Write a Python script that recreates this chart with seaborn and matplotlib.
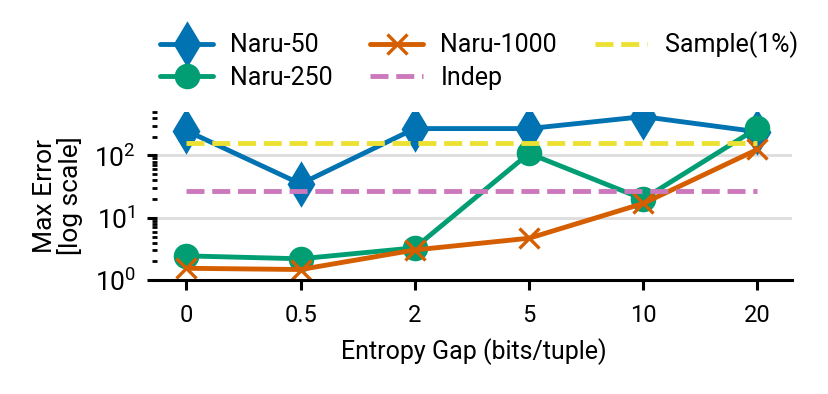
import numpy as np
import pandas as pd
import seaborn as sns
import matplotlib.pyplot as plt

# data
gap_labels = ["0", "0.5", "2", "5", "10", "20"]
naru_50 = [250, 35, 270, 270, 420, 240]
naru_250 = [2.45, 2.2, 3.3, 108, 20, 275]
naru_1000 = [1.55, 1.48, 3.05, 4.7, 17, 125]
indep = [27] * 6
sample_1pct = [158] * 6

sns.set_theme(style="ticks", palette="colorblind")
plt.rcParams["font.family"] = ["Roboto", "DejaVu Sans"]
plt.rcParams["mathtext.fontset"] = "cm"
for k in ["text.color", "axes.labelcolor", "xtick.color", "ytick.color", "axes.edgecolor"]:
    plt.rcParams[k] = "black"

pal = sns.color_palette("colorblind")
xs = np.arange(len(gap_labels))

fig = plt.figure(figsize=(8.29, 3.94), dpi=100)
ax = fig.add_axes([0.189, 0.289, 0.766, 0.427])

series = [
    ("Naru-50", naru_50, pal[0], "d", "-", 20),
    ("Naru-250", naru_250, pal[2], "o", "-", 16),
    ("Naru-1000", naru_1000, pal[3], "x", "-", 15),
    ("Indep", indep, pal[4], None, "--", 0),
    ("Sample(1%)", sample_1pct, pal[8], None, "--", 0),
]

for name, vals, col, mk, ls, ms in series:
    df = pd.DataFrame({"x": xs, "y": vals})
    kw = {}
    if mk:
        kw = dict(marker=mk, markersize=ms, markeredgewidth=2.4,
                  markeredgecolor=col, markerfacecolor=col)
    sns.lineplot(data=df, x="x", y="y", ax=ax, color=col, linestyle=ls,
                 linewidth=3.5, label=name, **kw)

ax.set_yscale("log")
ax.set_ylim(1, 500)
ax.set_xlim(-0.26, 5.3)
ax.set_xticks(xs)
ax.set_xticklabels(gap_labels)
ax.yaxis.grid(True, which="major", color="#dddddd", linewidth=2)
ax.set_axisbelow(True)
sns.despine(ax=ax, top=True, right=True, left=True)
ax.spines["bottom"].set_linewidth(2.2)
ax.tick_params(axis="x", which="major", labelsize=17, width=2.2, length=7, pad=10)
ax.tick_params(axis="y", which="major", labelsize=19, width=2.2, length=7, pad=8)
ax.tick_params(axis="y", which="minor", width=2, length=3.5)
ax.set_xlabel("Entropy Gap (bits/tuple)", fontsize=18, labelpad=8)
ax.set_ylabel("Max Error\n[log scale]", fontsize=19, labelpad=8, linespacing=1.0)

handles, labels = ax.get_legend_handles_labels()
ax.legend(handles, labels, ncol=3, frameon=False, fontsize=18,
          loc="lower left", bbox_to_anchor=(-0.01, 1.07), borderaxespad=0,
          handlelength=2.1, handletextpad=0.7, columnspacing=1.5,
          labelspacing=0.35)

fig.savefig("out.png", dpi=100)
